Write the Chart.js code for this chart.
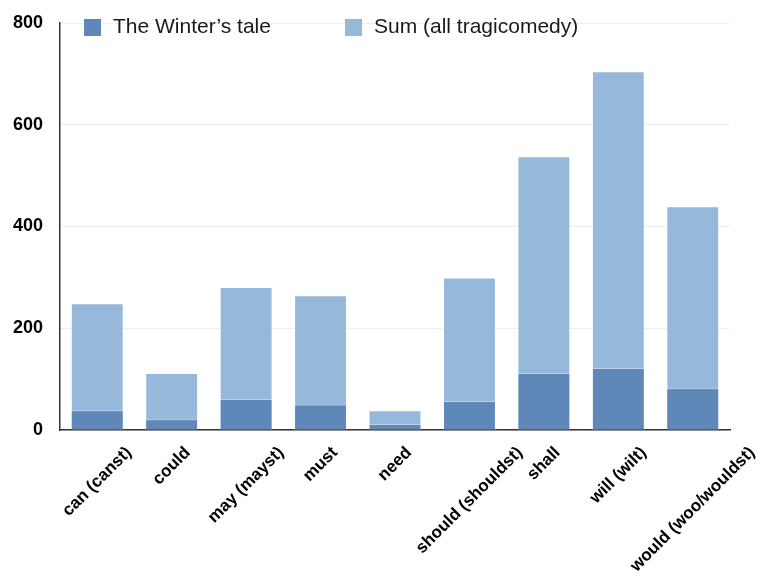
<!DOCTYPE html>
<html>
<head>
<meta charset="utf-8">
<script src="https://cdn.jsdelivr.net/npm/chart.js@4"></script>
<style>
  html, body { margin: 0; padding: 0; background: #fff; }
  #wrap { width: 762px; height: 579px; position: relative; }
</style>
</head>
<body>
<div id="wrap"><canvas id="modalChart"></canvas></div>
<script>
const categories = ['can (canst)', 'could', 'may (mayst)', 'must', 'need', 'should (shouldst)', 'shall', 'will (wilt)', 'would (woo/wouldst)'];
const winterTale = [39, 21, 61, 50, 12, 57, 112, 122, 82];
const sumTragicomedy = [249, 112, 281, 265, 39, 300, 538, 705, 440];
const yTicks = [0, 200, 400, 600, 800];

const FONT = "'Liberation Sans', Arial, Helvetica, sans-serif";

// legend drawn inside the plot, over the top gridline
const topLegend = {
  id: 'topLegend',
  afterDraw(chart) {
    const ctx = chart.ctx;
    const spots = [84, 345];
    ctx.save();
    ctx.font = '21px ' + FONT;
    ctx.textBaseline = 'middle';
    ctx.textAlign = 'left';
    chart.data.datasets.forEach((ds, i) => {
      ctx.fillStyle = ds.backgroundColor;
      ctx.fillRect(spots[i], 19, 17, 17);
      ctx.fillStyle = '#1a1a1a';
      ctx.fillText(ds.label, spots[i] + 29, 27);
    });
    ctx.restore();
  }
};

// rotated category labels, centred under each bar
const slantLabels = {
  id: 'slantLabels',
  afterDraw(chart) {
    const ctx = chart.ctx;
    const xs = chart.scales.x;
    const h = 17;
    ctx.save();
    ctx.font = 'bold 17px ' + FONT;
    ctx.fillStyle = '#000';
    ctx.textAlign = 'center';
    ctx.textBaseline = 'middle';
    categories.forEach((lab, i) => {
      const w = ctx.measureText(lab).width;
      const half = (w + h) * Math.SQRT1_2 / 2;
      ctx.save();
      ctx.translate(xs.getPixelForTick(i), chart.chartArea.bottom + 14 + half);
      ctx.rotate(-Math.PI / 4);
      ctx.fillText(lab, 0, 0);
      ctx.restore();
    });
    ctx.restore();
  }
};

const ctx = document.getElementById('modalChart').getContext('2d');

let modalChart = new Chart(ctx, {
  type: 'bar',
  data: {
    labels: categories,
    datasets: [{
      label: 'The Winter\u2019s tale',
      data: winterTale,
      backgroundColor: '#5f88b9',
      borderColor: 'rgba(255,255,255,0.35)',
      borderWidth: 1,
      grouped: false,
    },
    {
      label: 'Sum (all tragicomedy)',
      data: sumTragicomedy,
      backgroundColor: '#96b9db',
      borderColor: 'rgba(255,255,255,0.45)',
      borderWidth: 1,
      grouped: false,
    }],
  },
  options: {
    animation: false,
    responsive: true,
    maintainAspectRatio: false,
    barPercentage: 0.71,
    categoryPercentage: 1,
    layout: {
      padding: { top: 23, right: 32, bottom: 149, left: 0 },
    },
    plugins: {
      legend: { display: false },
      tooltip: { enabled: false },
    },
    scales: {
      x: {
        grid: { display: false },
        ticks: { display: false },
        border: { display: true, color: '#333', width: 1.5 },
        afterFit: (scale) => { scale.height = 0; },
      },
      y: {
        min: 0,
        max: 800,
        afterBuildTicks: (scale) => { scale.ticks = yTicks.map(v => ({ value: v })); },
        ticks: {
          padding: 17,
          color: '#000',
          font: { family: FONT, size: 18, weight: 'bold' },
        },
        grid: { color: '#eeeeee', lineWidth: 1, drawTicks: false },
        border: { display: true, color: '#333', width: 1.5 },
        afterFit: (scale) => {
          scale.width = 60;
          scale.paddingTop = 0;
          scale.paddingBottom = 0;
        },
      },
    },
  },
  plugins: [topLegend, slantLabels],
});
</script>
</body>
</html>
